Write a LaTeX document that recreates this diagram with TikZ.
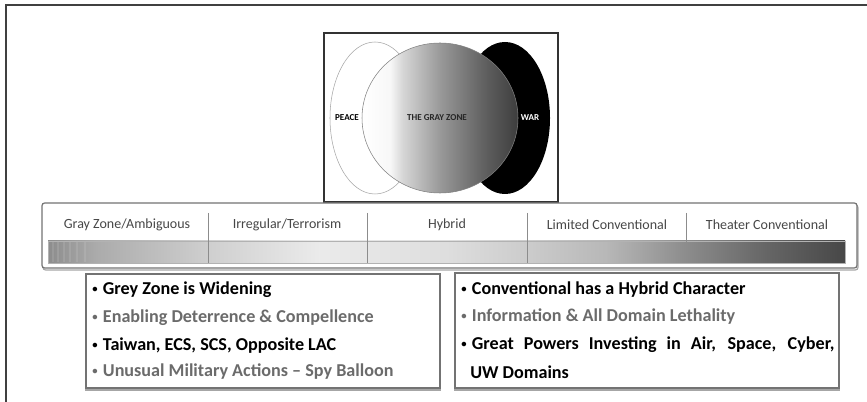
\documentclass[tikz,border=0pt]{standalone}
\usepackage{fontspec}
\setmainfont{Carlito}
\usetikzlibrary{positioning}

\pgfdeclarehorizontalshading{grayzone}{100bp}{color(0bp)=(white); color(25bp)=(white); color(34bp)=(white!97!black); color(38bp)=(black!16); color(50bp)=(black!40); color(64bp)=(black!62); color(75bp)=(black!76); color(100bp)=(black!76)}
\pgfdeclarehorizontalshading{spectrum}{100bp}{color(0bp)=(black!45); color(25bp)=(black!45); color(28bp)=(black!33); color(35bp)=(black!19); color(42bp)=(black!8); color(50bp)=(black!13); color(55bp)=(black!20); color(60bp)=(black!28); color(65bp)=(black!45); color(70bp)=(black!60); color(75bp)=(black!72); color(100bp)=(black!72)}

\newcommand{\bul}{\raisebox{1.6pt}{\fontsize{8}{8}\selectfont\textbullet}\hspace{4pt}}

\tikzset{
  frameline/.style={line width=1.2pt, black!75},
  panel/.style={draw=black!55, line width=0.9pt, fill=white},
  shadowline/.style={draw=black!35, line width=0.9pt},
  scale label/.style={inner sep=0pt, text=black!72, font=\fontsize{10.5}{12}\selectfont},
  venn label/.style={inner sep=0pt, font=\fontsize{6.8}{8}\selectfont\bfseries},
  item/.style={inner sep=0pt, anchor=west, font=\fontsize{13.6}{15}\selectfont\bfseries},
  dim item/.style={item, text=black!58}
}

\begin{document}
\begin{tikzpicture}[x=0.75pt,y=-0.75pt]
  \useasboundingbox (0,0) rectangle (867,402);
  % outer frame (only top and left edges show)
  \draw[frameline] (6,402) -- (6,5) -- (867,5);

  % venn panel
  \draw[line width=1.2pt, black!80, fill=white] (324,33) rectangle (558,202);
  \draw[black!35, fill=white] (375,118) ellipse [x radius=45, y radius=76];
  \fill[black] (505,118) ellipse [x radius=45, y radius=76];
  \draw[black!50, shading=grayzone] (440,118) ellipse [x radius=78, y radius=75];
  \node[venn label] (peace) at (347,118) {PEACE};
  \node[venn label, text=black!85] (grayzone) at (437,118) {THE GRAY ZONE};
  \node[venn label, text=white] (war) at (530,118) {WAR};

  % conflict spectrum
  \draw[shadowline, rounded corners=2pt] (43,205) rectangle (858,270);
  \draw[panel, rounded corners=2pt] (42,203) rectangle (857,268);
  \draw[black!30, shading=spectrum] (48,241) rectangle (845,263);
  \foreach \s in {53,58,64,70,77,85}{
    \draw[white, opacity=0.1, line width=0.8pt] (\s,242) -- (\s,262);
  }
  \foreach \d in {208,367,527,686}{
    \draw[black!45, line width=0.7pt] (\d,213) -- (\d,263);
  }
  \node[scale label] (gz) at (127,225) {Gray Zone/Ambiguous};
  \node[scale label] (irr) at (287,225) {Irregular/Terrorism};
  \node[scale label] (hyb) at (447,225) {Hybrid};
  \node[scale label] (lim) at (607,225) {Limited Conventional};
  \node[scale label] (thc) at (767,225) {Theater Conventional};

  % left list
  \draw[shadowline] (86,276) rectangle (440,390);
  \draw[panel] (86,274) rectangle (440,388);
  \node[item] (l1) at (92,290) {\bul Grey Zone is Widening};
  \node[dim item] (l2) at (92,318) {\bul Enabling Deterrence \& Compellence};
  \node[item] (l3) at (92,346) {\bul Taiwan, ECS, SCS, Opposite LAC};
  \node[dim item] (l4) at (92,372) {\bul Unusual Military Actions -- Spy Balloon};

  % right list
  \draw[shadowline] (455,275) rectangle (839,390);
  \draw[panel] (455,273) rectangle (839,388);
  \node[item] (r1) at (461,290) {\bul Conventional has a Hybrid Character};
  \node[dim item] (r2) at (461,317) {\bul Information \& All Domain Lethality};
  \node[item] (r3) at (461,345) {\bul \makebox[272pt][s]{Great Powers Investing in Air, Space, Cyber,}};
  \node[item] (r4) at (470,372) {UW Domains};
\end{tikzpicture}
\end{document}
